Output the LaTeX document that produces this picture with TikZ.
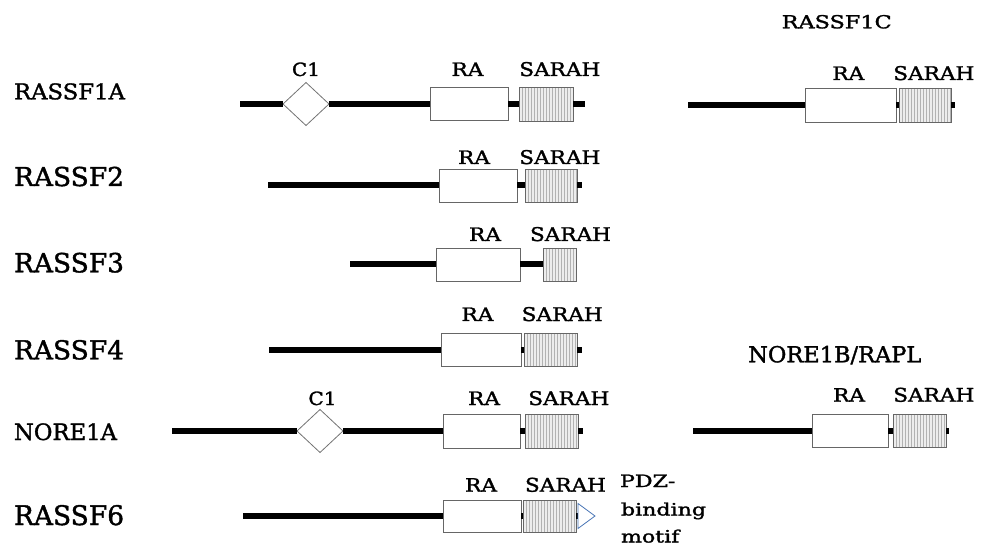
\documentclass[tikz,border=0pt]{standalone}
\usepackage{fontspec}
\setmainfont{DejaVu Serif}[FakeBold=1.5]
\usetikzlibrary{shapes.geometric}

% scale a label to a given width and cap height (in pt)
\newcommand\fitbox[3]{\resizebox{#1pt}{#2pt}{#3}}

\definecolor{motifblue}{RGB}{74,118,182}

\tikzset{
  every node/.style={inner sep=0pt, outer sep=0pt},
  backbone/.style={line width=6pt, black},
  rabox/.style={rectangle, draw=black!60, fill=white, line width=0.8pt},
  sarahbox/.style={rectangle, draw=black!60, fill=black!7, line width=0.8pt,
    path picture={
      \foreach \k in {1,...,40}
        \draw[black!30, line width=0.55pt]
          ([xshift=\k*3pt]path picture bounding box.south west) --
          ([xshift=\k*3pt]path picture bounding box.north west);
    }},
  cdomain/.style={diamond, draw=black!55, fill=white, line width=0.8pt,
    minimum width=46pt, minimum height=43pt},
  pdzmotif/.style={draw=motifblue, fill=white, line width=0.8pt},
  rowlabel/.style={anchor=base west},
  motiftext/.style={anchor=base west, font=\fontsize{17}{20}\selectfont},
}

\begin{document}
\begin{tikzpicture}[x=1pt, y=-1pt]
\useasboundingbox (0,0) rectangle (993,545);

% ---------- protein names ----------
\node[rowlabel] (nA) at (14,99.3)  {\fitbox{111}{16}{RASSF1A}};
\node[rowlabel] (n2) at (14,186)   {\fitbox{110}{19.3}{RASSF2}};
\node[rowlabel] (n3) at (14,272.3) {\fitbox{110}{19.6}{RASSF3}};
\node[rowlabel] (n4) at (14,359.3) {\fitbox{110}{19.3}{RASSF4}};
\node[rowlabel] (nN) at (14,440)   {\fitbox{103}{16.7}{NORE1A}};
\node[rowlabel] (n6) at (14,525)   {\fitbox{110}{20}{RASSF6}};
\node[anchor=base] (nC) at (836.7,28.3) {\fitbox{110}{13.3}{RASSF1C}};
\node[anchor=base west] (nB) at (748.3,362.3) {\fitbox{173}{16.4}{NORE1B/RAPL}};

% ---------- RASSF1A ----------
\coordinate (s1) at (240,104);
\coordinate (e1) at (585,104);
\node[cdomain] (d1) at (306,104) {};
\node[rabox, minimum width=78pt, minimum height=33pt] (ra1) at (469,104) {};
\node[sarahbox, minimum width=54pt, minimum height=34pt] (sa1) at (546,104.5) {};
\draw[backbone] (s1) -- (d1.west) (d1.east) -- (ra1.west) (ra1.east) -- (sa1.west |- ra1.east) (sa1.east |- e1) -- (e1);
\node[anchor=base] (c1t) at (306,76) {\fitbox{28}{13.5}{C1}};
\node[anchor=base] (ra1t) at (467.5,76) {\fitbox{32}{13.5}{RA}};
\node[anchor=base west] (sa1t) at (519.3,76) {\fitbox{81}{14}{SARAH}};

% ---------- RASSF2 ----------
\coordinate (s2) at (268,185.5);
\coordinate (e2) at (582,185.5);
\node[rabox, minimum width=78pt, minimum height=33pt] (ra2) at (478,185.5) {};
\node[sarahbox, minimum width=52pt, minimum height=33pt] (sa2) at (551,185.5) {};
\draw[backbone] (s2) -- (ra2.west) (ra2.east) -- (sa2.west) (sa2.east) -- (e2);
\node[anchor=base] (ra2t) at (474,164) {\fitbox{32}{13.5}{RA}};
\node[anchor=base west] (sa2t) at (519.3,164) {\fitbox{81}{14}{SARAH}};

% ---------- RASSF3 ----------
\coordinate (s3) at (350,264.5);
\node[rabox, minimum width=84pt, minimum height=33pt] (ra3) at (478,264.5) {};
\node[sarahbox, minimum width=33pt, minimum height=33pt] (sa3) at (559.5,264.5) {};
\draw[backbone] (s3) -- (ra3.west) (ra3.east) -- (sa3.west);
\node[anchor=base] (ra3t) at (485,241) {\fitbox{32}{13.5}{RA}};
\node[anchor=base west] (sa3t) at (530,241) {\fitbox{81}{14}{SARAH}};

% ---------- RASSF4 ----------
\coordinate (s4) at (269,349.5);
\coordinate (e4) at (582,349.5);
\node[rabox, minimum width=80pt, minimum height=33pt] (ra4) at (481,349.5) {};
\node[sarahbox, minimum width=53pt, minimum height=33pt] (sa4) at (550.5,349.5) {};
\draw[backbone] (s4) -- (ra4.west) (ra4.east) -- (sa4.west) (sa4.east) -- (e4);
\node[anchor=base] (ra4t) at (477.5,321) {\fitbox{32}{13.5}{RA}};
\node[anchor=base west] (sa4t) at (521.7,321) {\fitbox{81}{14}{SARAH}};

% ---------- NORE1A ----------
\coordinate (s5) at (172,431);
\coordinate (e5) at (583,431);
\node[cdomain] (d5) at (320,431) {};
\node[rabox, minimum width=77pt, minimum height=34pt] (ra5) at (481.5,431) {};
\node[sarahbox, minimum width=53pt, minimum height=34pt] (sa5) at (551.5,431) {};
\draw[backbone] (s5) -- (d5.west) (d5.east) -- (ra5.west) (ra5.east) -- (sa5.west) (sa5.east) -- (e5);
\node[anchor=base] (c5t) at (322.5,405) {\fitbox{28}{13.5}{C1}};
\node[anchor=base] (ra5t) at (484,405) {\fitbox{32}{13.5}{RA}};
\node[anchor=base west] (sa5t) at (528.3,405) {\fitbox{81}{14}{SARAH}};

% ---------- RASSF6 ----------
\coordinate (s6) at (243,516);
\coordinate (e6) at (578,516);
\node[rabox, minimum width=78pt, minimum height=32pt] (ra6) at (482,516) {};
\node[sarahbox, minimum width=53pt, minimum height=32pt] (sa6) at (549.5,516) {};
\draw[backbone] (s6) -- (ra6.west) (ra6.east) -- (sa6.west) (sa6.east) -- (e6);
\draw[pdzmotif] (e6) ++(0,-12.5) -- ++(17,12.5) -- ++(-17,12.5) -- cycle;
\node[anchor=base] (ra6t) at (481,491.7) {\fitbox{32}{13.5}{RA}};
\node[anchor=base west] (sa6t) at (525,491.7) {\fitbox{81}{14}{SARAH}};
\node[motiftext] (pdz1) at (620,487)   {\scalebox{1.3}[1]{PDZ-}};
\node[motiftext] (pdz2) at (621,515.5) {\scalebox{1.3}[1]{binding}};
\node[motiftext] (pdz3) at (621,542.5) {\scalebox{1.3}[1]{motif}};

% ---------- RASSF1C ----------
\coordinate (sC) at (688,105);
\coordinate (eC) at (955,105);
\node[rabox, minimum width=91pt, minimum height=34pt] (raC) at (850.5,105) {};
\node[sarahbox, minimum width=52pt, minimum height=34pt] (saC) at (925,105) {};
\draw[backbone] (sC) -- (raC.west) (raC.east) -- (saC.west) (saC.east) -- (eC);
\node[anchor=base] (raCt) at (848.3,80) {\fitbox{32}{13.5}{RA}};
\node[anchor=base west] (saCt) at (893.3,80) {\fitbox{81}{14}{SARAH}};

% ---------- NORE1B/RAPL ----------
\coordinate (sB) at (693,430.5);
\coordinate (eB) at (949,430.5);
\node[rabox, minimum width=76pt, minimum height=33pt] (raB) at (850,430.5) {};
\node[sarahbox, minimum width=53pt, minimum height=33pt] (saB) at (919.5,430.5) {};
\draw[backbone] (sB) -- (raB.west) (raB.east) -- (saB.west) (saB.east) -- (eB);
\node[anchor=base] (raBt) at (849,401.7) {\fitbox{32}{13.5}{RA}};
\node[anchor=base west] (saBt) at (893.3,401.7) {\fitbox{81}{14}{SARAH}};
\end{tikzpicture}
\end{document}
